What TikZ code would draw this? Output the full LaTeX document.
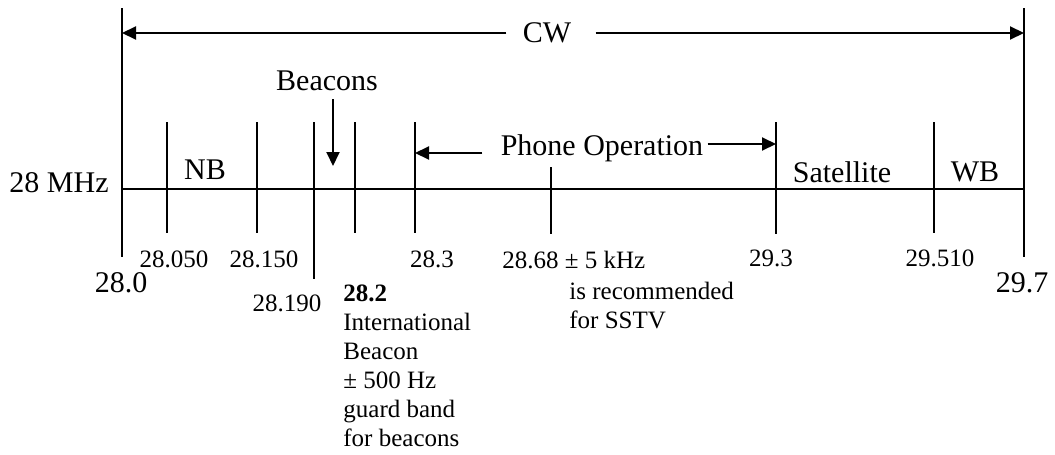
\documentclass[tikz,border=0pt]{standalone}
\usepackage{fontspec}
\setmainfont{Liberation Serif}
\usetikzlibrary{arrows.meta,positioning}
\tikzset{
  axisline/.style={line width=1pt,black},
  bandarr/.style={-{Triangle[length=7pt,width=6.5pt]},line width=1pt},
  biglbl/.style={font=\fontsize{15}{18}\selectfont,inner sep=0pt},
  freqlbl/.style={font=\fontsize{12.5}{14.5}\selectfont,inner sep=0pt},
}

\begin{document}
\begin{tikzpicture}[x=0.5pt,y=-0.5pt]
    \useasboundingbox (0,0) rectangle (1055,455);
    % band edges and ticks
    \coordinate (lft) at (122,189);
    \coordinate (rgt) at (1024,189);
    \foreach \x/\n/\ya/\yb in {122/f280/8/257, 167/f2805/122/233, 257/f2815/122/233,
        314/f2819/122/279, 355/f282/122/233, 415/f283/122/233, 551/f2868/167/234,
        776/f293/122/234, 934/f2951/122/233, 1024/f297/8/257}
      \draw[axisline] (\x,\ya) coordinate (\n t) -- (\x,\yb) coordinate (\n b);
    \draw[axisline] (lft) -- (rgt);
    % band names
    \node[biglbl] (mhz) at (59,183) {28 MHz};
    \node[biglbl] (nb) at (205,170) {NB};
    \node[biglbl] (bcn) at (327,81) {Beacons};
    \node[biglbl,inner xsep=8pt] (cw) at (547,33) {CW};
    \node[biglbl] (phone) at (602,148) {Phone Operation};
    \node[biglbl] (sat) at (842,172) {Satellite};
    \node[biglbl] (wb) at (975,172) {WB};
    % frequencies
    \node[biglbl] (l280) at (121,283) {28.0};
    \node[biglbl] (l297) at (1022,283) {29.7};
    \node[freqlbl] (l2805) at (174,259) {28.050};
    \node[freqlbl] (l2815) at (264,259) {28.150};
    \node[freqlbl] (l2819) at (287,303) {28.190};
    \node[freqlbl] (l283) at (432,259) {28.3};
    \node[freqlbl] (l293) at (771,258) {29.3};
    \node[freqlbl] (l2951) at (940,258) {29.510};
    \node[freqlbl,anchor=north west,align=left] (l282) at (343,284)
      {\textbf{28.2}\\International\\Beacon\\± 500 Hz\\guard band\\for beacons};
    \node[freqlbl,anchor=west] (l2868) at (502,260) {28.68 ± 5 kHz};
    \node[freqlbl,anchor=north west,align=left] (sstv) at (569,282)
      {is recommended\\for SSTV};
    % arrows
    \coordinate (bcnTip) at (333,166);
    \draw[bandarr] (cw.west) -- (cw.west -| f280t);
    \draw[bandarr] ([xshift=4pt]cw.east) -- (cw.east -| f297t);
    \draw[bandarr] ([yshift=-4pt]bcnTip |- bcn.south) -- (bcnTip);
    \draw[bandarr] ([xshift=-9pt,yshift=-2.5pt]phone.west) -- ([yshift=-2.5pt]phone.west -| f283t);
    \draw[bandarr] ([xshift=2pt,yshift=2pt]phone.east) -- ([yshift=2pt]phone.east -| f293t);
\end{tikzpicture}
\end{document}
